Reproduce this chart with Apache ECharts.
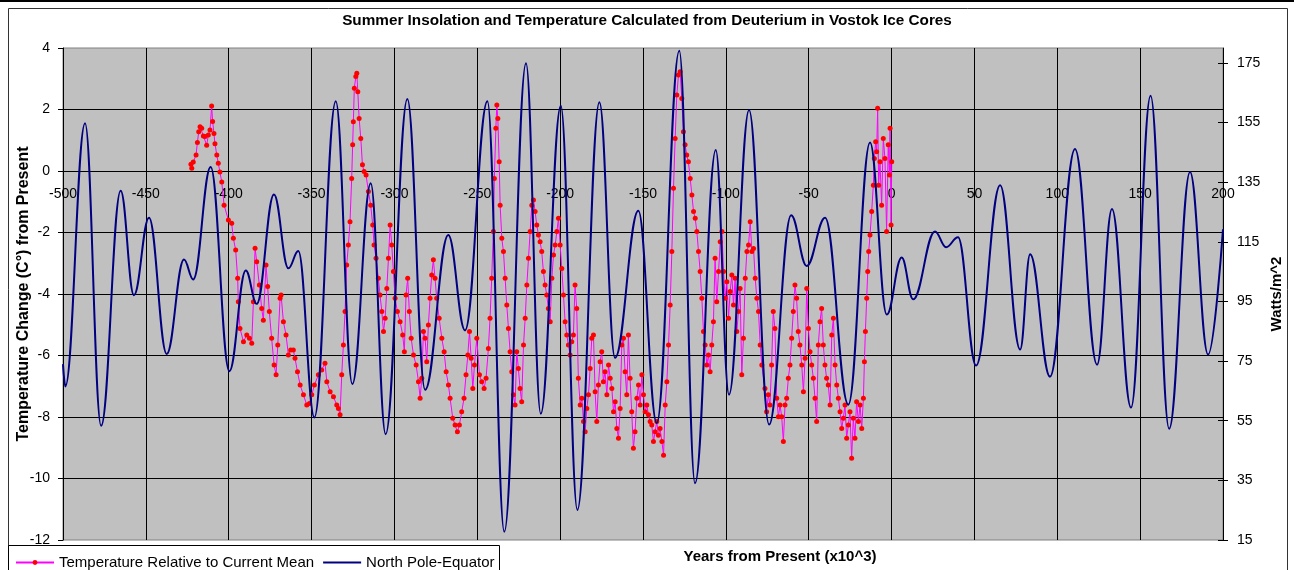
<!DOCTYPE html>
<html><head><meta charset="utf-8">
<script src="https://cdn.jsdelivr.net/npm/echarts@6/dist/echarts.min.js"></script>
<style>html,body{margin:0;padding:0;background:#fff}#c{width:1294px;height:570px}</style>
</head><body><div id="c"></div>
<script>
// ---- data ----
const chartTitle = 'Summer Insolation and Temperature Calculated from Deuterium in Vostok Ice Cores';
const seriesNames = ['Temperature Relative to Current Mean', 'North Pole-Equator'];
const leftTicks = [-12,-10,-8,-6,-4,-2,0,2,4];
const rightTicks = [15,35,55,75,95,115,135,155,175];
const xTicks = [-500,-450,-400,-350,-300,-250,-200,-150,-100,-50,0,50,100,150,200];

const tempYears = [-422.8,-422.3,-421.4,-419.7,-418.9,-418.1,-417.3,-416.3,-415.3,-414.3,-413.3,-412.3,-411.3,-410.3,-409.7,-408.9,-408.3,-407.2,-406.3,-405.3,-404.2,
-402.8,-400.2,-398.2,-397.2,-395.8,-394.6,-394.2,-393.2,-391.1,-389.1,-387.5,-386.1,-385.1,-384.1,-383.1,-381.5,-380.1,-379.1,-377.5,-376.5,-375.5,-374.1,-372.6,-371.4,-370.4,-369.0,-368.4,-367.0,-365.4,-364.0,-362.6,-361.0,-360.0,-358.5,-356.9,-354.9,-352.9,-351.3,-349.9,-348.3,-345.9,-343.9,-341.9,-340.8,-338.8,-336.8,-334.8,-333.8,
-332.8,-331.8,-330.8,-329.8,-328.8,-327.8,-326.8,-325.8,-325.2,-324.8,-324.2,-323.3,-322.7,-322.1,-321.3,-320.3,-319.3,-318.3,-317.1,-315.7,-314.3,-313.1,-312.3,-311.1,-309.7,-308.7,-307.6,-306.6,-305.6,-304.6,-303.6,-302.6,-301.6,-300.6,-299.6,-298.2,-296.6,-295.0,-294.0,-293.0,-292.0,-291.0,-289.9,-288.5,-286.9,-285.5,-284.5,-283.5,-282.5,-281.5,-280.5,-279.5,-278.5,-277.5,-276.5,-275.5,-274.5,-273.0,-271.4,-270.0,-268.8,-267.4,-266.4,-264.8,-263.4,-262.0,-260.8,-259.4,-258.0,-256.8,-255.7,-254.7,-253.7,-252.7,-251.7,-250.3,-248.7,-247.3,-245.9,
-244.7,-243.3,-242.3,-241.3,-240.3,-239.7,-238.8,-238.2,-237.6,-236.8,-236.2,-235.2,-234.2,-233.2,-232.2,-231.2,-230.2,-229.2,-228.2,-227.2,-226.2,-225.2,-224.2,-223.2,-222.1,-221.1,-220.1,-219.1,-218.1,-217.1,-216.1,-215.1,-214.1,-213.1,-212.1,-211.1,-210.1,-209.1,-208.1,-207.1,-206.0,-205.0,-204.0,-203.0,-202.0,-201.0,-200.0,-199.0,-198.0,-197.0,-196.0,-195.0,-194.0,-193.0,-192.0,-191.0,-190.0,-189.0,-187.9,-186.9,-185.9,-184.9,-183.9,-182.9,-181.9,-180.9,-179.9,-178.9,-177.9,-176.9,-175.9,-174.9,-173.9,-172.9,-171.8,-170.8,-169.8,-168.8,-167.8,-166.8,-165.8,-164.8,-163.8,
-162.8,-161.8,-160.8,-159.8,-158.8,-157.8,-156.8,-155.8,-154.8,-153.7,-152.7,-151.7,-150.7,-149.7,-148.7,-147.7,-146.7,-145.7,-144.7,-143.7,-142.7,-141.7,-140.7,-139.7,-138.6,-137.6,-136.6,-135.6,-134.6,-133.6,-132.6,-131.6,-130.6,-129.6,-128.6,-127.6,-126.6,-125.6,-124.6,-123.6,-122.6,-121.5,-120.5,-119.5,-118.5,-117.5,-116.5,-115.5,-114.5,-113.5,-112.5,-111.5,-110.5,-109.5,-108.5,-107.5,-106.5,-105.5,-104.4,-103.4,-102.4,-101.4,-100.4,-99.4,-98.4,-97.4,-96.4,-95.4,-94.4,-93.4,-92.4,-91.4,-90.4,-89.4,-88.3,-87.3,-86.3,-85.3,-84.3,-83.3,-82.3,-81.3,-80.3,-79.3,-78.3,
-76.4,-75.4,-74.4,-73.4,-72.4,-71.4,-70.4,-69.3,-68.3,-67.3,-66.3,-65.3,-64.3,-63.3,-62.3,-61.3,-60.3,-59.3,-58.3,-57.3,-56.3,-55.3,-54.2,-53.2,-52.2,-51.2,-50.2,-49.2,-48.2,-47.2,-46.2,-45.2,-44.2,-43.2,-42.2,-41.2,-40.2,-39.2,-38.2,-37.1,-36.1,-35.1,-34.1,-33.1,-32.1,-31.1,-30.1,-29.1,-28.1,-27.1,-26.1,-25.1,-24.1,-23.1,-22.1,-21.1,-20.0,-19.0,-18.0,-17.0,-16.4,-15.8,-15.0,-14.4,-13.8,-13.0,-12.0,-11.0,-10.4,-9.6,-9.0,-8.4,-7.8,-7.0,-6.0,-5.0,-4.0,-3.0,-2.0,-1.3,-0.9,-0.3,0.1];

const tempValues = [0.22,0.09,0.29,0.52,0.93,1.28,1.44,1.39,1.14,1.12,0.84,1.17,1.33,2.11,1.61,1.22,0.89,0.52,0.25,-0.03,-0.36,
-1.11,-1.59,-1.70,-2.19,-2.57,-3.49,-4.25,-5.12,-5.55,-5.33,-5.44,-5.60,-4.25,-2.51,-2.95,-3.71,-4.47,-4.85,-3.06,-3.76,-4.57,-5.44,-6.31,-6.63,-5.66,-4.14,-4.03,-4.90,-5.33,-5.98,-5.82,-5.82,-6.09,-6.53,-6.96,-7.28,-7.61,-7.56,-7.28,-6.96,-6.63,-6.47,-6.25,-6.85,-7.18,-7.34,-7.61,-7.72,
-7.93,-6.63,-5.66,-4.57,-3.06,-2.41,-1.65,-0.24,0.85,1.60,2.69,3.07,3.18,2.58,1.71,1.06,0.20,-0.02,-0.13,-0.67,-1.11,-1.76,-2.41,-2.84,-3.49,-4.03,-4.57,-5.22,-4.79,-3.82,-2.84,-1.76,-2.41,-3.27,-4.14,-4.57,-4.90,-5.33,-5.88,-4.03,-3.49,-4.57,-5.44,-5.98,-6.31,-6.85,-7.39,-6.74,-5.22,-5.44,-6.20,-5.01,-4.14,-3.38,-2.89,-3.49,-4.14,-4.79,-5.44,-5.88,-6.53,-6.96,-7.39,-8.04,-8.26,-8.48,-8.26,-7.83,-7.39,-6.63,-5.98,-5.22,-6.09,-7.07,-6.31,-5.44,-6.63,-6.85,-7.07,
-6.74,-5.77,-4.79,-3.49,-1.97,-0.24,1.39,2.15,1.71,0.30,-1.11,-2.19,-2.62,-3.49,-4.36,-5.12,-5.88,-6.53,-7.28,-7.61,-5.88,-6.42,-7.07,-7.50,-5.66,-4.79,-3.71,-2.84,-1.97,-1.11,-0.94,-1.32,-1.76,-2.08,-2.30,-2.62,-3.27,-3.71,-4.03,-4.47,-4.90,-3.49,-2.73,-2.41,-1.97,-1.54,-2.41,-3.17,-4.03,-4.90,-5.33,-5.66,-5.98,-5.55,-5.33,-3.71,-4.47,-6.74,-7.61,-7.39,-8.15,-8.48,-7.72,-7.28,-6.42,-5.44,-5.33,-7.18,-8.15,-6.96,-6.20,-5.88,-6.85,-6.53,-7.28,-6.31,-6.74,-7.07,-7.83,-7.50,-8.37,-8.69,-7.72,
-5.66,-5.44,-6.53,-7.28,-5.33,-6.74,-7.83,-9.02,-8.48,-7.39,-6.96,-7.61,-6.63,-7.28,-7.83,-7.61,-7.93,-8.15,-8.26,-8.80,-8.48,-8.15,-8.59,-8.37,-8.80,-9.24,-7.61,-6.85,-5.66,-4.36,-2.62,-0.56,1.06,2.47,3.12,3.23,2.36,1.28,0.85,0.52,0.30,-0.24,-0.78,-1.32,-1.54,-1.97,-2.62,-3.27,-4.14,-5.22,-5.66,-6.31,-5.98,-6.53,-5.66,-4.90,-2.84,-4.25,-3.27,-2.30,-1.97,-3.27,-4.14,-3.60,-4.79,-3.92,-3.38,-4.36,-3.49,-5.22,-4.57,-3.82,-6.63,-5.44,-3.49,-2.62,-2.41,-1.65,-2.62,-2.52,-3.49,-4.14,-4.57,-5.66,-6.31,
-7.07,-7.83,-7.28,-7.61,-6.31,-4.57,-5.12,-7.39,-7.99,-7.61,-7.99,-8.80,-7.61,-7.39,-6.74,-6.31,-5.44,-4.57,-3.71,-4.14,-5.22,-5.66,-6.31,-7.18,-6.09,-3.82,-5.12,-5.88,-6.31,-6.74,-7.39,-8.15,-5.66,-4.90,-4.47,-5.66,-6.31,-6.74,-6.96,-7.61,-5.33,-4.79,-6.31,-6.96,-7.39,-7.83,-8.37,-8.04,-7.61,-8.69,-8.26,-7.83,-9.34,-8.04,-8.69,-7.50,-8.15,-7.61,-8.37,-7.39,-6.20,-5.22,-4.14,-3.27,-2.62,-2.08,-1.32,-0.46,0.41,0.95,0.63,2.04,-0.46,0.30,-1.11,1.06,0.41,-1.97,0.85,-0.13,1.39,-1.76,0.30];

const insolYears = [-500,-498.6,-486.7,-477,-465.2,-457.2,-448.1,-437.4,-427,-421.4,-410.9,-399.6,-389.7,-383.1,-372.7,-364,-358,-348.3,-335.4,-325.4,-314.3,-305.3,-292.2,-281.5,-267.5,-257.4,-243.9,-233.7,-220.6,-211.7,-199.6,-189.6,-176.3,-166.9,-152.8,-141.7,-128.1,-118.6,-106.1,-98.1,-86,-73.9,-60.6,-51.2,-40.1,-26.1,-13,-2.9,6.1,13,26.2,32.9,40.1,51,65.5,77.6,83.6,95.6,110.7,124,133,144.5,156.3,167.5,180.1,191,200];
const insolValues = [74,66.5,154.8,53.3,132.1,97.1,123.1,77.4,109.1,102.4,140.1,71.6,105.4,94.2,130.9,106.1,111.9,56.1,162.1,67.3,134.6,50.5,162.9,65.4,117.3,85.3,162.1,17.8,174.9,57.3,160.6,25.1,161.8,76.1,125.4,54.2,179.1,34,145.8,63.7,159.2,53.7,123.9,106.9,123.1,60.4,148.3,90.6,109.7,95.7,118.5,113.2,116.5,73.5,134,78.9,110.8,69.8,146.1,73.8,126,59.4,164,52.3,138.4,77.2,119.2];

// ---- chart ----
const tempData = tempYears.map((y, i) => [y, tempValues[i]]);
const insolData = insolYears.map((y, i) => [y, insolValues[i]]);
const FONT = '"Liberation Sans", Arial, sans-serif';

const chart = echarts.init(document.getElementById('c'), null, {renderer: 'canvas'});
chart.setOption({
  animation: false,
  backgroundColor: '#ffffff',
  textStyle: {fontFamily: FONT},
  title: {
    text: chartTitle, left: 'center', top: 13, padding: 0,
    textStyle: {fontFamily: FONT, fontSize: 15.3, fontWeight: 'bold', color: '#000'}
  },
  legend: {
    left: 15, top: 555, padding: 0, itemWidth: 38, itemHeight: 6, itemGap: 8,
    data: [
      {name: seriesNames[0]},
      {name: seriesNames[1], itemStyle: {color: 'rgba(0,0,0,0)', borderWidth: 0}}
    ],
    textStyle: {fontFamily: FONT, fontSize: 15, color: '#000'}
  },
  graphic: [
    {type: 'rect', z: -10, shape: {x: 0, y: 0, width: 1294, height: 2}, style: {fill: '#000'}},
    {type: 'rect', z: -10, shape: {x: 8.5, y: 8.5, width: 1279, height: 600}, style: {fill: null, stroke: '#333', lineWidth: 1}},
    {type: 'rect', z: -5, shape: {x: 8.5, y: 545.5, width: 491, height: 40}, style: {fill: '#fff', stroke: '#000', lineWidth: 1}},
    {type: 'text', z: 10, style: {text: 'Years from Present (x10^3)', x: 780, y: 557, font: 'bold 15px ' + FONT, fill: '#000', align: 'center', verticalAlign: 'middle'}}
  ],
  grid: {
    left: 63, right: 71, top: 48, bottom: 30, show: true,
    backgroundColor: '#C0C0C0', borderColor: '#808080', borderWidth: 1
  },
  xAxis: {
    type: 'value', min: xTicks[0], max: xTicks[xTicks.length - 1], interval: 50,
    position: 'bottom', offset: -369,
    axisLine: {onZero: false, lineStyle: {color: '#000', width: 1}},
    axisTick: {show: false},
    axisLabel: {fontFamily: FONT, fontSize: 14, color: '#000', margin: 16},
    splitLine: {show: true, lineStyle: {color: '#000', width: 1}}
  },
  yAxis: [
    {
      type: 'value', position: 'left', min: leftTicks[0], max: leftTicks[leftTicks.length - 1], interval: 2,
      name: 'Temperature Change (C°) from Present', nameLocation: 'middle', nameGap: 31, nameRotate: 90,
      nameMoveOverlap: false,
      nameTextStyle: {fontFamily: FONT, fontSize: 16, fontWeight: 'bold', color: '#000'},
      axisLine: {show: true, onZero: false, lineStyle: {color: '#000', width: 1}},
      axisTick: {show: true, length: 5, lineStyle: {color: '#000'}},
      axisLabel: {fontFamily: FONT, fontSize: 14, color: '#000', margin: 13},
      splitLine: {show: true, showMinLine: false, showMaxLine: false, lineStyle: {color: '#000', width: 1}}
    },
    {
      type: 'value', position: 'right', min: 15, max: 180, interval: 20,
      name: 'Watts/m^2', nameLocation: 'middle', nameGap: 46, nameRotate: 90,
      nameMoveOverlap: false,
      nameTextStyle: {fontFamily: FONT, fontSize: 15, fontWeight: 'bold', color: '#000'},
      axisLine: {show: true, onZero: false, lineStyle: {color: '#000', width: 1}},
      axisTick: {show: true, length: 5, lineStyle: {color: '#000'}, customValues: rightTicks},
      axisLabel: {fontFamily: FONT, fontSize: 14, color: '#000', margin: 14, customValues: rightTicks},
      splitLine: {show: false}
    },
    {
      type: 'value', position: 'right', min: 15, max: 180, interval: 20,
      axisLine: {show: false, onZero: false},
      axisTick: {show: true, inside: true, length: 5, lineStyle: {color: '#000'}, customValues: rightTicks},
      axisLabel: {show: false},
      splitLine: {show: false}
    }
  ],
  series: [
    {
      name: seriesNames[0], type: 'line', yAxisIndex: 0, data: tempData, z: 2,
      symbol: 'circle', symbolSize: 5, showSymbol: true,
      itemStyle: {color: '#FF0000'},
      lineStyle: {color: '#FF00FF', width: 1}
    },
    {
      name: seriesNames[1], type: 'line', yAxisIndex: 1, data: insolData, z: 3,
      symbol: 'none', smooth: 0.4, smoothMonotone: 'x',
      itemStyle: {color: '#000080'},
      lineStyle: {color: '#000080', width: 2}
    }
  ]
});
</script>
</body></html>
